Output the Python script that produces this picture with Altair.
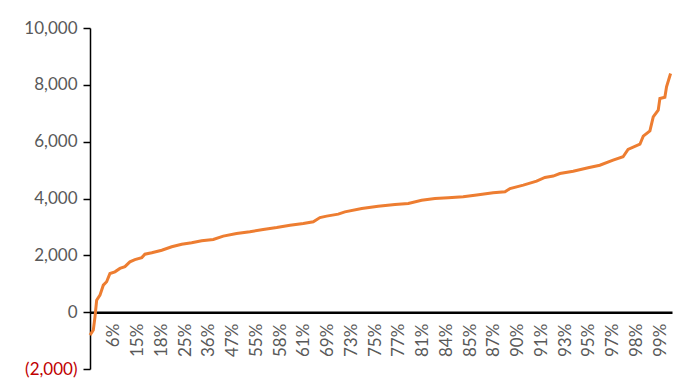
import altair as alt
import pandas as pd

# position index along the sorted distribution (category index)
idx = [0, 1.4, 2.1, 2.8, 4.2, 5.6, 7.0, 8.4, 10.5, 12.6, 14.7, 16.8, 18.9, 21.8, 23.1,
       26.0, 30.2, 34.4, 38.6, 42.8, 47.0, 51.9, 56.1, 61.7, 67.3, 72.9, 78.6, 84.2,
       89.8, 94.0, 96.8, 99.6, 104.5, 107.3, 114.4, 121.3, 128.4, 134.0, 139.6, 145.2,
       150.8, 157.1, 162.8, 169.7, 174.7, 176.8, 182.4, 188.0, 191.5, 195.0, 197.8,
       203.4, 209.7, 214.6, 220.2, 224.4, 226.5, 231.5, 232.9, 235.7, 237.1, 239.2,
       239.9, 242.0, 242.7, 244.4]
values = [-810, -630, -165, 420, 600, 950, 1070, 1360, 1420, 1540, 1600, 1770, 1850, 1920,
          2040, 2090, 2180, 2300, 2390, 2440, 2510, 2560, 2675, 2770, 2830, 2910, 2980,
          3060, 3120, 3180, 3330, 3380, 3450, 3530, 3650, 3730, 3790, 3825, 3940, 4000,
          4025, 4060, 4120, 4200, 4235, 4350, 4470, 4610, 4740, 4790, 4880, 4960, 5080,
          5170, 5350, 5470, 5730, 5910, 6195, 6380, 6870, 7110, 7520, 7560, 7930, 8400]

tick_labels = ["6%", "15%", "18%", "25%", "36%", "47%", "55%", "58%", "61%", "69%",
               "73%", "75%", "77%", "81%", "84%", "85%", "87%", "90%", "91%", "93%",
               "95%", "97%", "98%", "99%"]
tick_pos = [10 * (i + 1) for i in range(len(tick_labels))]

df = pd.DataFrame({"idx": idx, "value": values})

label_arr = "[" + ",".join("'" + s + "'" for s in tick_labels) + "]"

W, H = 582, 341
zero_off = -(H * 2000 / 12000)

chart = alt.Chart(df).mark_line(color="#ED7D31", strokeWidth=3).encode(
    x=alt.X("idx:Q",
            scale=alt.Scale(domain=[0, 245], nice=False, zero=False),
            axis=alt.Axis(values=tick_pos, labelExpr=label_arr + "[round(datum.value/10)-1]",
                          labelAngle=270, title=None, grid=False, ticks=False,
                          domainColor="black", domainWidth=2.5, offset=zero_off,
                          labelPadding=11, labelFontSize=17, labelColor="#595959",
                          labelFont="Lato", labelOverlap=False)),
    y=alt.Y("value:Q",
            scale=alt.Scale(domain=[-2000, 10000], nice=False),
            axis=alt.Axis(values=[-2000, 0, 2000, 4000, 6000, 8000, 10000],
                          labelExpr="datum.value < 0 ? '(' + format(-datum.value, ',') + ')' : format(datum.value, ',')",
                          labelColor=alt.ExprRef(expr="datum.value < 0 ? '#C00000' : '#595959'"),
                          title=None, grid=False, tickSize=7, tickColor="black",
                          domainColor="black", domainWidth=1.5, tickWidth=1.5,
                          labelFontSize=17, labelFont="Lato", labelPadding=6)),
).properties(
    width=W, height=H,
    autosize=alt.AutoSizeParams(type="none"),
    padding={"left": 82, "top": 20, "right": 12, "bottom": 10},
).configure_view(stroke=None)

chart.save("out.html", embed_options={"renderer": "svg", "actions": False})
